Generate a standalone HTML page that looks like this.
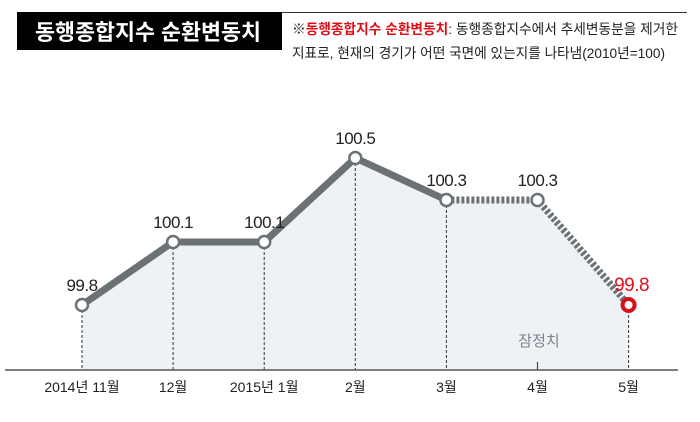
<!DOCTYPE html>
<html><head><meta charset="utf-8"><style>
body{margin:0;background:#fff;}
svg text{font-family:"Liberation Sans","Noto Sans CJK KR",sans-serif;}
</style></head><body>
<svg width="700" height="417" viewBox="0 0 700 417">
<line x1="17" y1="12.5" x2="687" y2="12.5" stroke="#333" stroke-width="1"/>
<rect x="17" y="12" width="265" height="38" fill="#000"/>
<text x="35" y="40" fill="#fff" font-size="22" font-weight="bold" textLength="226" lengthAdjust="spacingAndGlyphs">동행종합지수 순환변동치</text>
<text x="292" y="34" font-size="14" fill="#222" textLength="386" lengthAdjust="spacingAndGlyphs">※<tspan fill="#e0101a" font-weight="bold">동행종합지수 순환변동치</tspan>: 동행종합지수에서 추세변동분을 제거한</text>
<text x="292" y="58" font-size="14" fill="#222" textLength="373" lengthAdjust="spacingAndGlyphs">지표로, 현재의 경기가 어떤 국면에 있는지를 나타냄(2010년=100)</text>
<g id="plot"></g>
</svg>
<script>
const categories=["2014년 11월","12월","2015년 1월","2월","3월","4월","5월"];
const values=[99.8,100.1,100.1,100.5,100.3,100.3,99.8];
const labels=["99.8","100.1","100.1","100.5","100.3","100.3","99.8"];
const provisionalFrom=4;
const ns="http://www.w3.org/2000/svg";
const g=document.getElementById('plot');
const xs=i=>82+i*91.1;
const ys=v=>305-(v-99.8)*210;
const base=370;
function mk(t,a){const e=document.createElementNS(ns,t);for(const k in a)e.setAttribute(k,a[k]);g.appendChild(e);return e;}
let d="M"+xs(0)+","+base;values.forEach((v,i)=>d+=" L"+xs(i)+","+ys(v));d+=" L"+xs(values.length-1)+","+base+"Z";
const area=mk('path',{d:d,fill:"#eef2f6"});


values.forEach((v,i)=>{
 if(i===5){const t=mk('line',{x1:xs(i),y1:base-8,x2:xs(i),y2:base,stroke:"#444","stroke-width":1.2});
 
 return;}
 const l=mk('line',{x1:xs(i),y1:ys(v),x2:xs(i),y2:base,stroke:"#333","stroke-width":1,"stroke-dasharray":"3,2"});
 
 
});
const ax=mk('line',{x1:5,y1:base,x2:678,y2:base,stroke:"#555","stroke-width":1.5});


let sd="";for(let i=0;i<=provisionalFrom;i++)sd+=(i?" L":"M")+xs(i)+","+ys(values[i]);
const sl=mk('path',{d:sd,fill:"none",stroke:"#6b7276","stroke-width":7,"stroke-linejoin":"round"});


let pd="";for(let i=provisionalFrom;i<values.length;i++)pd+=(i>provisionalFrom?" L":"M")+xs(i)+","+ys(values[i]);
const pl=mk('path',{d:pd,fill:"none",stroke:"#6b7276","stroke-width":7,"stroke-dasharray":"3,2"});


values.forEach((v,i)=>{
 const last=i===values.length-1;
 const c=mk('circle',{cx:xs(i),cy:ys(v),r:6,fill:"#fff",stroke:last?"#d8101a":"#6b7276","stroke-width":last?4:2.5});
 
 
 const t=mk('text',{x:xs(i)+(last?3:0),y:ys(v)-14,"text-anchor":"middle","font-size":last?"19":"17",fill:last?"#e0101a":"#222","letter-spacing":"-0.5"});
 t.textContent=labels[i];
 
 
 const c2=mk('text',{x:xs(i),y:392,"text-anchor":"middle","font-size":"14",fill:"#222"});
 c2.textContent=categories[i];
 
 
});
const pt=mk('text',{x:539,y:346,"text-anchor":"middle","font-size":"15",fill:"#7a8288"});
pt.textContent="잠정치";


</script>
</body></html>
